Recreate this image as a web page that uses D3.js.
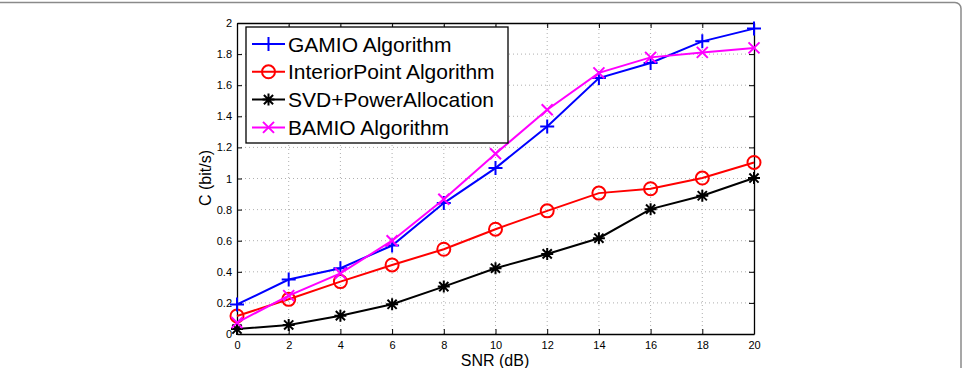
<!DOCTYPE html>
<html>
<head>
<meta charset="utf-8"/>
<script src="https://d3js.org/d3.v7.min.js"></script>
<style>
  body { margin:0; background:#fff; }
  text { font-family: "Liberation Sans", Arial, sans-serif; }
</style>
</head>
<body>
<svg id="chart" width="966" height="368"></svg>
<script>
// data
let snr = [0, 2, 4, 6, 8, 10, 12, 14, 16, 18, 20];
let gamio = [0.19, 0.35, 0.423, 0.569, 0.842, 1.067, 1.335, 1.646, 1.743, 1.882, 1.964];
let interior = [0.116, 0.223, 0.337, 0.444, 0.545, 0.674, 0.792, 0.906, 0.934, 1.003, 1.103];
let svd = [0.032, 0.058, 0.118, 0.191, 0.305, 0.423, 0.515, 0.616, 0.803, 0.889, 1.003];
let bamio = [0.073, 0.247, 0.39, 0.60, 0.867, 1.159, 1.442, 1.679, 1.779, 1.811, 1.84];
let xTicks = [0, 2, 4, 6, 8, 10, 12, 14, 16, 18, 20];
let yTicks = [0, 0.2, 0.4, 0.6, 0.8, 1, 1.2, 1.4, 1.6, 1.8, 2];
let names = ["GAMIO Algorithm", "InteriorPoint Algorithm", "SVD+PowerAllocation", "BAMIO Algorithm"];

let svg = d3.select("#chart");

// outer rounded frame (only top and right visible)
svg.append("rect")
    .attr("x", -20).attr("y", 2.5)
    .attr("width", 981).attr("height", 400)
    .attr("rx", 6)
    .style("fill", "none").style("stroke", "#8a8a8a").style("stroke-width", 1.5);

let x = d3.scaleLinear().domain([0, 20]).range([237, 754]);
let y = d3.scaleLinear().domain([0, 2]).range([334, 23]);

// grid
let grid = svg.append("g");
xTicks.slice(1, -1).forEach(function(t) {
    grid.append("line")
        .attr("x1", x(t)).attr("x2", x(t)).attr("y1", y(0)).attr("y2", y(2))
        .style("stroke", "#9a9a9a").style("stroke-width", 0.8).style("stroke-dasharray", "1,3");
});
yTicks.slice(1, -1).forEach(function(t) {
    grid.append("line")
        .attr("x1", x(0)).attr("x2", x(20)).attr("y1", y(t)).attr("y2", y(t))
        .style("stroke", "#9a9a9a").style("stroke-width", 0.8).style("stroke-dasharray", "1,3");
});

// axes with inward ticks
let xAxis = svg.append("g").attr("transform", "translate(0," + y(0) + ")")
    .call(d3.axisBottom(x).tickValues(xTicks).tickSizeInner(-5).tickSizeOuter(0).tickPadding(7));
let xTop = svg.append("g").attr("transform", "translate(0," + y(2) + ")")
    .call(d3.axisTop(x).tickValues(xTicks).tickSizeInner(-5).tickSizeOuter(0).tickFormat(""));
let yAxis = svg.append("g").attr("transform", "translate(" + x(0) + ",0)")
    .call(d3.axisLeft(y).tickValues(yTicks).tickSizeInner(-5).tickSizeOuter(0).tickPadding(5)
        .tickFormat(function(d) { return d3.format("~g")(d); }));
let yRight = svg.append("g").attr("transform", "translate(" + x(20) + ",0)")
    .call(d3.axisRight(y).tickValues(yTicks).tickSizeInner(-5).tickSizeOuter(0).tickFormat(""));
[xAxis, xTop, yAxis, yRight].forEach(function(a) {
    a.selectAll("path").style("stroke", "#000").style("stroke-width", 1.3);
    a.selectAll("line").style("stroke", "#000");
    a.selectAll("text").style("font-size", "11px").style("fill", "#000")
        .style("font-family", "Liberation Sans, Arial, sans-serif");
});

// axis labels
svg.append("text").text("SNR (dB)")
    .attr("x", 495).attr("y", 366).attr("text-anchor", "middle")
    .style("font-size", "16px");
svg.append("text").text("C (bit/s)")
    .attr("transform", "translate(211,178) rotate(-90)").attr("text-anchor", "middle")
    .style("font-size", "16px");

// markers
function marker(g, kind, cx, cy, color) {
    if (kind == "plus") {
        g.append("path").attr("d", "M" + (cx - 7) + "," + cy + "H" + (cx + 7) + "M" + cx + "," + (cy - 7) + "V" + (cy + 7))
            .style("stroke", color).style("stroke-width", 2).style("fill", "none");
    } else if (kind == "circle") {
        g.append("circle").attr("cx", cx).attr("cy", cy).attr("r", 6.5)
            .style("stroke", color).style("stroke-width", 2).style("fill", "none");
    } else if (kind == "star") {
        let s = 6, d = 4.6;
        g.append("path").attr("d",
            "M" + (cx - s) + "," + cy + "H" + (cx + s) +
            "M" + cx + "," + (cy - s) + "V" + (cy + s) +
            "M" + (cx - d) + "," + (cy - d) + "L" + (cx + d) + "," + (cy + d) +
            "M" + (cx - d) + "," + (cy + d) + "L" + (cx + d) + "," + (cy - d))
            .style("stroke", color).style("stroke-width", 2).style("fill", "none");
    } else {
        let d = 5.5;
        g.append("path").attr("d",
            "M" + (cx - d) + "," + (cy - d) + "L" + (cx + d) + "," + (cy + d) +
            "M" + (cx - d) + "," + (cy + d) + "L" + (cx + d) + "," + (cy - d))
            .style("stroke", color).style("stroke-width", 2).style("fill", "none");
    }
}

let series = [
    {vals: gamio, color: "#0000ff", kind: "plus"},
    {vals: interior, color: "#ff0000", kind: "circle"},
    {vals: svd, color: "#000000", kind: "star"},
    {vals: bamio, color: "#ff00ff", kind: "cross"}
];

let line = d3.line().x(function(d, i) { return x(snr[i]); }).y(function(d) { return y(d); });
// draw in order so that magenta ends on top
let drawOrder = [2, 1, 0, 3];
drawOrder.forEach(function(k) {
    let s = series[k];
    let g = svg.append("g");
    g.append("path").datum(s.vals).attr("d", line)
        .style("fill", "none").style("stroke", s.color).style("stroke-width", 2);
    s.vals.forEach(function(v, i) { marker(g, s.kind, x(snr[i]), y(v), s.color); });
});

// legend
let leg = svg.append("g");
leg.append("rect").attr("x", 246).attr("y", 27).attr("width", 262).attr("height", 116)
    .style("fill", "#fff").style("stroke", "#000").style("stroke-width", 1.3);
names.forEach(function(n, i) {
    let ly = 44 + i * 27.8;
    let s = series[i];
    leg.append("line").attr("x1", 252).attr("x2", 285).attr("y1", ly).attr("y2", ly)
        .style("stroke", s.color).style("stroke-width", 2);
    marker(leg, s.kind, 268.5, ly, s.color);
    leg.append("text").text(n).attr("x", 288).attr("y", ly + 7.5)
        .style("font-size", "21px").style("fill", "#000");
});
</script>
</body>
</html>
